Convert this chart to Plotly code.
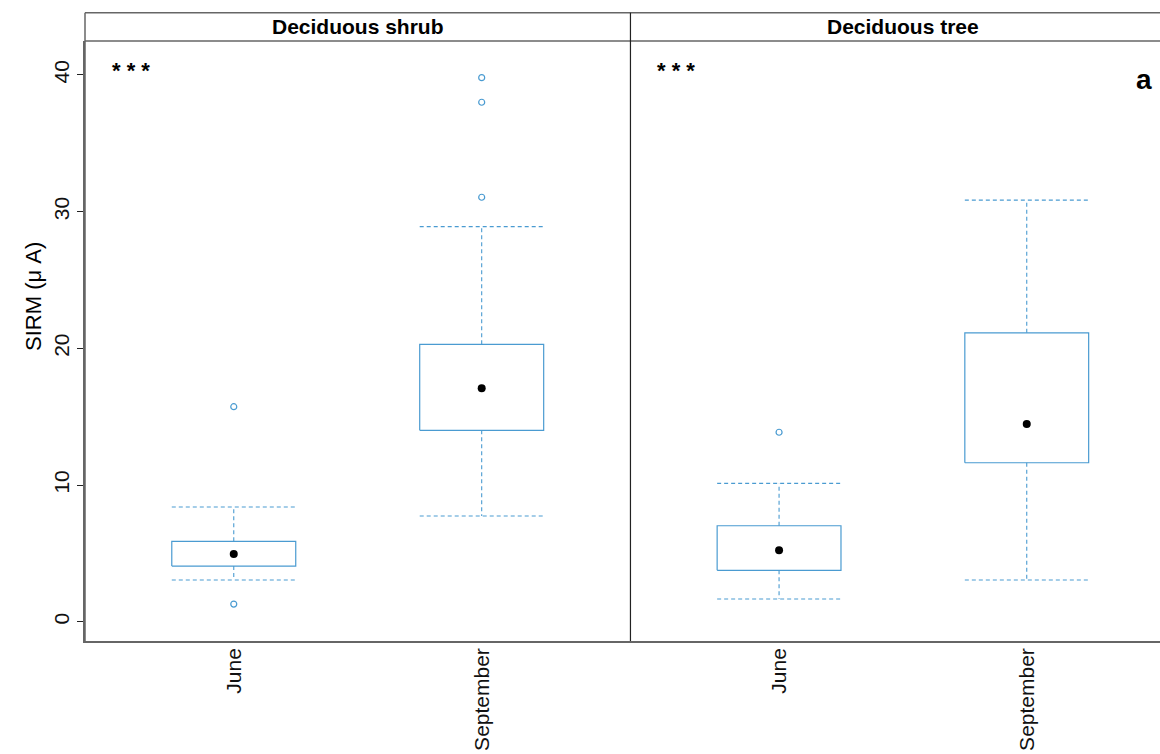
import plotly.graph_objects as go

# Seasonal SIRM values for two deciduous plant types
months = ["June", "September"]
panels = ["Deciduous shrub", "Deciduous tree"]

shrub_q1 = [4.07, 14.0]
shrub_med = [4.95, 17.07]
shrub_q3 = [5.88, 20.29]
shrub_lo = [3.05, 7.73]
shrub_hi = [8.39, 28.9]
shrub_out = [[15.73, 1.29], [39.8, 38.0, 31.05]]

tree_q1 = [3.76, 11.63]
tree_med = [5.22, 14.46]
tree_q3 = [7.02, 21.13]
tree_lo = [1.66, 3.05]
tree_hi = [10.12, 30.84]
tree_out = [[13.86], []]

signif = ["* * *", "* * *"]
y_ticks = [0, 10, 20, 30, 40]

BLUE = "#4a9bd1"
FONT = "Liberation Sans, Arial, sans-serif"
HALF = 0.25  # half box width in category units

fig = go.Figure()


def add_boxes(xa, ya, q1, med, q3, lo, hi, outs):
    for i, m in enumerate(months):
        c = i + 1
        # box body
        fig.add_trace(go.Scatter(
            x=[c - HALF, c + HALF, c + HALF, c - HALF, c - HALF],
            y=[q1[i], q1[i], q3[i], q3[i], q1[i]],
            mode="lines", line=dict(color=BLUE, width=1.2),
            xaxis=xa, yaxis=ya, showlegend=False, hoverinfo="skip"))
        # dashed whiskers and caps
        fig.add_trace(go.Scatter(
            x=[c, c, None, c, c, None, c - HALF, c + HALF, None, c - HALF, c + HALF],
            y=[q3[i], hi[i], None, q1[i], lo[i], None, hi[i], hi[i], None, lo[i], lo[i]],
            mode="lines", line=dict(color=BLUE, width=1.1, dash="4px,3px"),
            xaxis=xa, yaxis=ya, showlegend=False, hoverinfo="skip"))
        # outliers
        if outs[i]:
            fig.add_trace(go.Scatter(
                x=[c] * len(outs[i]), y=outs[i], mode="markers",
                marker=dict(symbol="circle-open", size=6, color=BLUE,
                            line=dict(width=1.2, color=BLUE)),
                xaxis=xa, yaxis=ya, showlegend=False))
        # median dot
        fig.add_trace(go.Scatter(
            x=[c], y=[med[i]], mode="markers",
            marker=dict(symbol="circle", size=8, color="black"),
            xaxis=xa, yaxis=ya, showlegend=False))


add_boxes("x", "y", shrub_q1, shrub_med, shrub_q3, shrub_lo, shrub_hi, shrub_out)
add_boxes("x2", "y", tree_q1, tree_med, tree_q3, tree_lo, tree_hi, tree_out)

SPLIT = 0.5074
STRIP_TOP = 1.047
FRAME = "#666666"

xcommon = dict(
    tickmode="array", tickvals=[1, 2], ticktext=months, tickangle=-90,
    ticks="", showgrid=False, zeroline=False, showline=True,
    linecolor=FRAME, linewidth=1.5, ticklabelstandoff=-3,
    tickfont=dict(family=FONT, size=21, color="#111111"),
)
fig.update_layout(
    width=1160, height=754,
    margin=dict(l=85, r=0, t=41, b=113),
    paper_bgcolor="white", plot_bgcolor="white",
    showlegend=False,
    xaxis=dict(domain=[0, SPLIT], range=[0.4, 2.6], anchor="y", **xcommon),
    xaxis2=dict(domain=[SPLIT, 1], range=[0.4, 2.538], anchor="y", **xcommon),
    yaxis=dict(
        range=[-1.41, 42.48], tickvals=y_ticks, tickangle=-90,
        ticks="outside", ticklen=6, tickcolor="#222222", tickwidth=1,
        showgrid=False, zeroline=False, showline=True,
        linecolor=FRAME, linewidth=1.5,
        tickfont=dict(family=FONT, size=21, color="#111111"),
    ),
)

shapes = [
    # strip outline and panel top
    dict(type="line", xref="paper", yref="paper", x0=0, x1=1, y0=STRIP_TOP, y1=STRIP_TOP,
         line=dict(color=FRAME, width=1.5)),
    dict(type="line", xref="paper", yref="paper", x0=0, x1=1, y0=1, y1=1,
         line=dict(color=FRAME, width=1.5)),
    dict(type="line", xref="paper", yref="paper", x0=0, x1=0, y0=0, y1=STRIP_TOP,
         line=dict(color=FRAME, width=1.5)),
    # panel divider
    dict(type="line", xref="paper", yref="paper", x0=SPLIT, x1=SPLIT, y0=0, y1=STRIP_TOP,
         line=dict(color="#222222", width=1.2)),
]
fig.update_layout(shapes=shapes)

annotations = []
for xa, name, sig in zip(["x", "x2"], panels, signif):
    annotations.append(dict(
        xref=xa, yref="paper", x=1.5, y=(1 + STRIP_TOP) / 2, text=f"<b>{name}</b>",
        showarrow=False, xanchor="center", yanchor="middle",
        font=dict(family=FONT, size=21, color="black")))
    annotations.append(dict(
        xref=xa, yref="y", x=0.5, y=40.3, text=f"<b>{sig}</b>",
        showarrow=False, xanchor="left", yanchor="middle",
        font=dict(family=FONT, size=22, color="black")))
annotations.append(dict(
    xref="x2", yref="y", x=2.472, y=39.7, text="<b>a</b>",
    showarrow=False, xanchor="center", yanchor="middle",
    font=dict(family=FONT, size=28, color="black")))
annotations.append(dict(
    xref="paper", yref="paper", x=-0.0484, y=0.575, text="SIRM (\u03bc A)",
    textangle=-90, showarrow=False, xanchor="center", yanchor="middle",
    font=dict(family=FONT, size=22, color="black")))
fig.update_layout(annotations=annotations)

fig.write_html("out.html")
